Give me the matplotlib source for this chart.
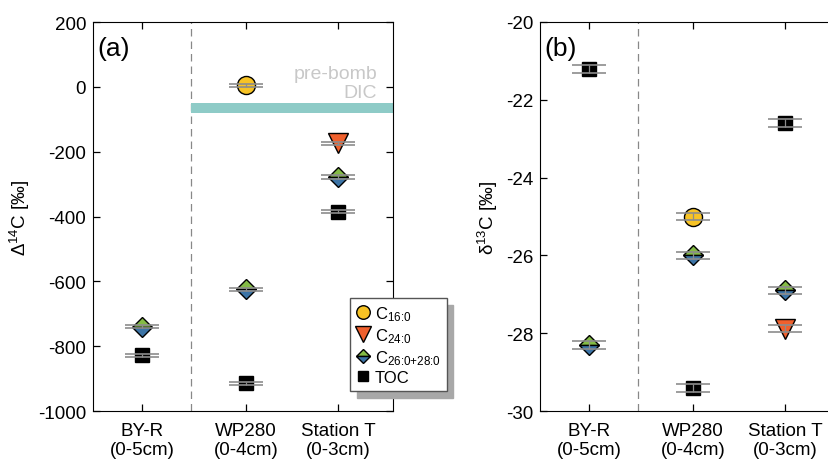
import numpy as np
import matplotlib
matplotlib.use("Agg")
import matplotlib.pyplot as plt
from matplotlib.lines import Line2D

plt.rcParams["font.family"] = ["Liberation Sans", "DejaVu Sans"]
plt.rcParams["mathtext.fontset"] = "custom"
plt.rcParams["mathtext.rm"] = "Liberation Sans"
plt.rcParams["mathtext.it"] = "Liberation Sans"

# data
sites = ["BY-R\n(0-5cm)", "WP280\n(0-4cm)", "Station T\n(0-3cm)"]
site_x = [0.163, 0.51, 0.817]
divider_x = 0.327

d14c_c16 = [np.nan, 5, np.nan]
d14c_c24 = [np.nan, np.nan, -174]
d14c_c26 = [-740, -625, -278]
d14c_toc = [-828, -914, -385]
d14c_err = [5, 5, 5]

d13c_c16 = [np.nan, -25.0, np.nan]
d13c_c24 = [np.nan, np.nan, -27.88]
d13c_c26 = [-28.3, -26.0, -26.9]
d13c_toc = [-21.2, -29.4, -22.6]
d13c_err = [0.1, 0.1, 0.1]

prebomb_dic = (-80, -50)

# styles
YELLOW = "#f7c325"
ORANGE = "#f0602d"
GREEN = "#84bb45"
BLUE = "#3c74a6"
ERR = "#8c8c8c"
FS = 13.5

series = [
    (r"C$_{16\colon0}$", dict(marker="o", ms=13, mfc=YELLOW, mec="black", mew=1.0)),
    (r"C$_{24\colon0}$", dict(marker="v", ms=15, mfc=ORANGE, mec="black", mew=1.0)),
    (r"C$_{26\colon0{+}28\colon0}$", dict(marker="D", ms=10, mfc=GREEN, mfcalt=BLUE,
                                          fillstyle="top", mec="black", mew=1.0)),
    ("TOC", dict(marker="s", ms=10, mfc="black", mec="black", mew=1.0)),
]

fig = plt.figure(figsize=(8.29, 4.6), dpi=100)
ax_a = fig.add_axes([0.1122, 0.1043, 0.3619, 0.8457])
ax_b = fig.add_axes([0.6514, 0.1043, 0.3619, 0.8457])


def panel(ax, values, err, ylim, yticks, ylabel, tag):
    ax.set_xlim(0, 1)
    ax.set_ylim(*ylim)
    ax.axvline(divider_x, color="#888888", lw=0.9, ls=(0, (6, 4)), zorder=1)
    for (label, st), vals in zip(series, values):
        ax.errorbar(site_x, vals, yerr=err, fmt="none", ecolor=ERR,
                    elinewidth=0.9, capsize=12, capthick=1.2, zorder=4)
        ax.plot(site_x, vals, ls="none", zorder=3, label=label, **st)
    ax.set_xticks(site_x)
    ax.set_xticklabels(sites, fontsize=FS, linespacing=1.15)
    ax.set_yticks(yticks)
    ax.set_yticklabels([str(t) for t in yticks], fontsize=FS)
    ax.tick_params(direction="in", length=5, width=0.9, top=True, right=True,
                   pad=5)
    ax.tick_params(axis="x", pad=8)
    ax.set_ylabel(ylabel, fontsize=FS, labelpad=4)
    ax.text(0.015, 0.965, tag, transform=ax.transAxes, fontsize=19,
            ha="left", va="top")


panel(ax_a, [d14c_c16, d14c_c24, d14c_c26, d14c_toc], d14c_err,
      (-1000, 200), list(range(-1000, 201, 200)), "Δ$^{14}$C [‰]", "(a)")
panel(ax_b, [d13c_c16, d13c_c24, d13c_c26, d13c_toc], d13c_err,
      (-30, -20), list(range(-30, -19, 2)), "δ$^{13}$C [‰]", "(b)")

# pre-bomb DIC band
ax_a.axhspan(prebomb_dic[0], prebomb_dic[1], xmin=divider_x, xmax=1,
             color="#8ecbc7", lw=0, zorder=2)
ax_a.text(0.947, 12, "pre-bomb\nDIC", transform=ax_a.get_yaxis_transform(),
          ha="right", va="center", color="#c8c8c8", fontsize=14,
          linespacing=1.15)

handles = [Line2D([], [], ls="none", **dict(st, ms=st["ms"] * 0.75))
           for _, st in series]
labels = [lab for lab, _ in series]
fig.legend(handles, labels, loc="upper left", bbox_to_anchor=(0.422, 0.35),
           fontsize=12, frameon=True, fancybox=False, edgecolor="#555555",
           shadow={"color": "#a8a8a8", "alpha": 1.0, "ox": 5, "oy": -5},
           handlelength=0.85, handletextpad=0.3, labelspacing=0.2,
           borderpad=0.35, borderaxespad=0)

fig.savefig("out.png", dpi=100)
